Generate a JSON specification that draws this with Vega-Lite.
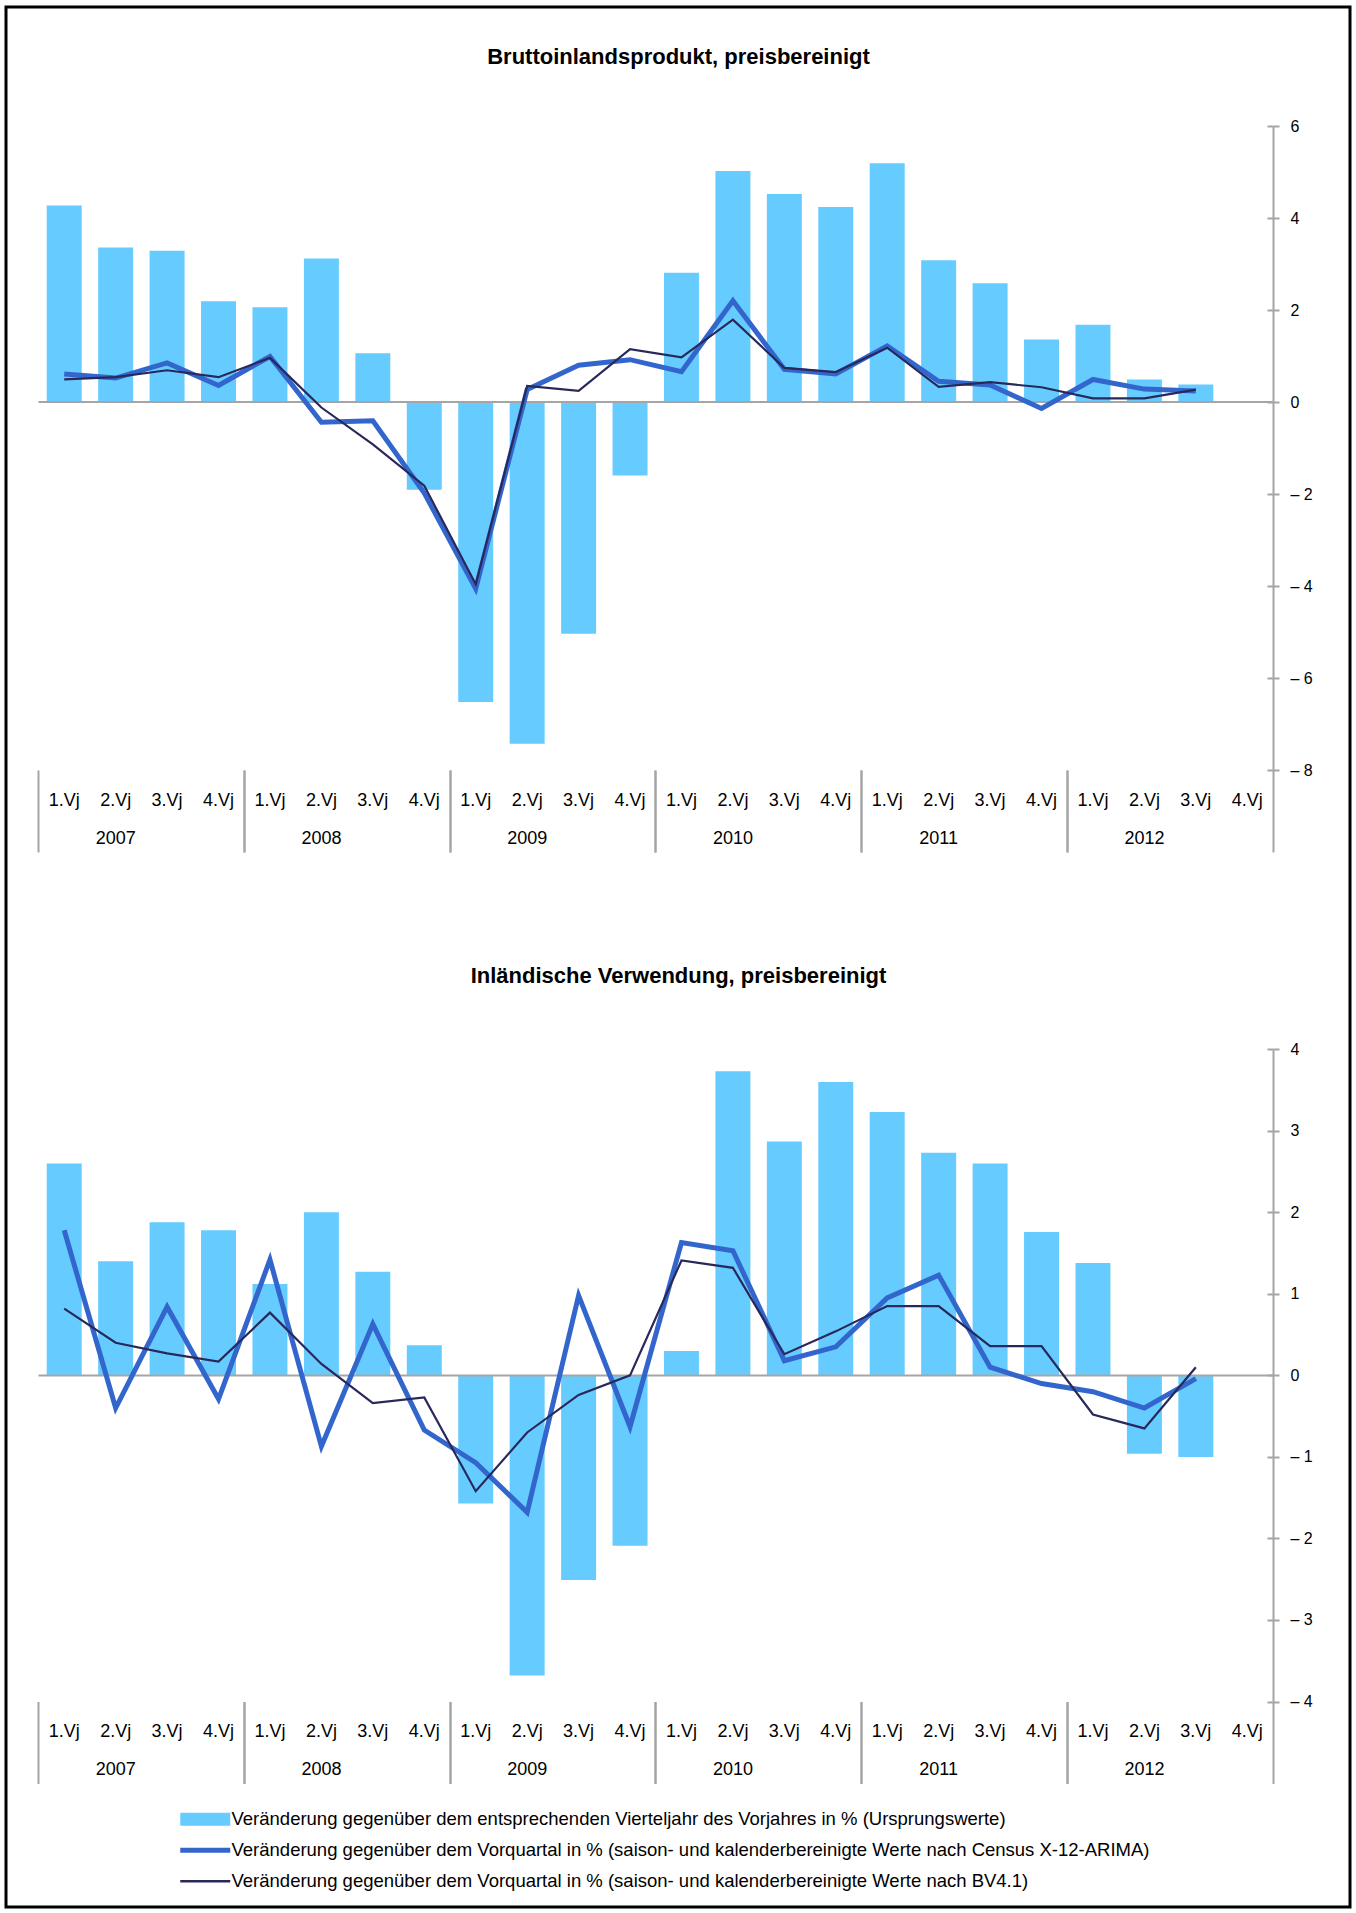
{
"$schema": "https://vega.github.io/schema/vega-lite/v6.json",
"width": 1344, "height": 1900,
"autosize": "none",
"padding": {"left": 6, "top": 7, "right": 6, "bottom": 6},
"background": "white",
"config": {"font": "Liberation Sans", "view": {"stroke": "#000000", "strokeWidth": 3}},
"datasets": {
"bip": [
{"q":"2007-1","vj":4.27,"x12":0.61,"bv":0.49},
{"q":"2007-2","vj":3.36,"x12":0.52,"bv":0.54},
{"q":"2007-3","vj":3.29,"x12":0.85,"bv":0.69},
{"q":"2007-4","vj":2.19,"x12":0.36,"bv":0.54},
{"q":"2008-1","vj":2.06,"x12":0.99,"bv":0.96},
{"q":"2008-2","vj":3.12,"x12":-0.44,"bv":-0.12},
{"q":"2008-3","vj":1.06,"x12":-0.41,"bv":-0.92},
{"q":"2008-4","vj":-1.91,"x12":-1.98,"bv":-1.82},
{"q":"2009-1","vj":-6.52,"x12":-4.06,"bv":-3.96},
{"q":"2009-2","vj":-7.43,"x12":0.27,"bv":0.35},
{"q":"2009-3","vj":-5.04,"x12":0.80,"bv":0.24},
{"q":"2009-4","vj":-1.60,"x12":0.92,"bv":1.15},
{"q":"2010-1","vj":2.81,"x12":0.66,"bv":0.97},
{"q":"2010-2","vj":5.02,"x12":2.20,"bv":1.79},
{"q":"2010-3","vj":4.52,"x12":0.71,"bv":0.74},
{"q":"2010-4","vj":4.24,"x12":0.61,"bv":0.65},
{"q":"2011-1","vj":5.19,"x12":1.22,"bv":1.18},
{"q":"2011-2","vj":3.08,"x12":0.45,"bv":0.33},
{"q":"2011-3","vj":2.58,"x12":0.37,"bv":0.43},
{"q":"2011-4","vj":1.36,"x12":-0.14,"bv":0.32},
{"q":"2012-1","vj":1.68,"x12":0.49,"bv":0.08},
{"q":"2012-2","vj":0.49,"x12":0.28,"bv":0.08},
{"q":"2012-3","vj":0.38,"x12":0.24,"bv":0.27}
],
"inl": [
{"q":"2007-1","vj":2.60,"x12":1.78,"bv":0.82},
{"q":"2007-2","vj":1.40,"x12":-0.40,"bv":0.40},
{"q":"2007-3","vj":1.88,"x12":0.84,"bv":0.27},
{"q":"2007-4","vj":1.78,"x12":-0.29,"bv":0.17},
{"q":"2008-1","vj":1.12,"x12":1.42,"bv":0.77},
{"q":"2008-2","vj":2.00,"x12":-0.87,"bv":0.14},
{"q":"2008-3","vj":1.27,"x12":0.63,"bv":-0.34},
{"q":"2008-4","vj":0.37,"x12":-0.67,"bv":-0.27},
{"q":"2009-1","vj":-1.57,"x12":-1.07,"bv":-1.42},
{"q":"2009-2","vj":-3.68,"x12":-1.68,"bv":-0.70},
{"q":"2009-3","vj":-2.51,"x12":0.98,"bv":-0.24},
{"q":"2009-4","vj":-2.09,"x12":-0.63,"bv":0.00},
{"q":"2010-1","vj":0.30,"x12":1.63,"bv":1.41},
{"q":"2010-2","vj":3.73,"x12":1.53,"bv":1.32},
{"q":"2010-3","vj":2.87,"x12":0.18,"bv":0.26},
{"q":"2010-4","vj":3.60,"x12":0.35,"bv":0.54},
{"q":"2011-1","vj":3.23,"x12":0.95,"bv":0.85},
{"q":"2011-2","vj":2.73,"x12":1.23,"bv":0.85},
{"q":"2011-3","vj":2.60,"x12":0.10,"bv":0.36},
{"q":"2011-4","vj":1.76,"x12":-0.10,"bv":0.36},
{"q":"2012-1","vj":1.38,"x12":-0.20,"bv":-0.48},
{"q":"2012-2","vj":-0.96,"x12":-0.40,"bv":-0.65},
{"q":"2012-3","vj":-1.00,"x12":-0.04,"bv":0.10}
]
},
"resolve": {"scale": {"y": "independent"}, "axis": {"x": "independent", "y": "independent"}},
"layer": [
{
 "data": {"name": "bip"},
 "mark": {"type": "bar", "width": {"band": 0.68}},
 "encoding": {
  "x": {"field": "q", "type": "ordinal",
   "scale": {"type": "band", "domain": ["2007-1","2007-2","2007-3","2007-4","2008-1","2008-2","2008-3","2008-4","2009-1","2009-2","2009-3","2009-4","2010-1","2010-2","2010-3","2010-4","2011-1","2011-2","2011-3","2011-4","2012-1","2012-2","2012-3","2012-4"], "range": [32.5, 1267], "paddingInner": 0, "paddingOuter": 0},
   "axis": {"orient": "bottom", "offset": -1137, "domain": false, "ticks": false, "grid": false, "labelAngle": 0, "labelBaseline": "middle", "labelPadding": 30, "labelFontSize": 18, "labelColor": "#000000", "labelExpr": "substring(datum.value, 5) + '.Vj'",
    "title": "Bruttoinlandsprodukt, preisbereinigt", "titleX": 672, "titleY": -706.5, "titleAlign": "center", "titleBaseline": "alphabetic", "titleFontSize": 22, "titleFontWeight": "bold", "titleColor": "#000000"}},
  "y": {"field": "vj", "type": "quantitative",
   "scale": {"domain": [-8, 6], "range": [763, 119], "nice": false, "zero": false},
   "axis": {"orient": "right", "offset": -77, "values": [-8,-6,-4,-2,0,2,4,6], "labelExpr": "datum.value < 0 ? '– ' + abs(datum.value) : '' + datum.value", "labelFontSize": 16, "labelColor": "#000000", "labelPadding": 11, "labelBaseline": "middle", "tickSize": 6, "tickWidth": 2, "tickColor": "#A5A5A5", "domainColor": "#A5A5A5", "domainWidth": 2, "grid": false, "title": null}},
  "fill": {"datum": "Veränderung gegenüber dem entsprechenden Vierteljahr des Vorjahres in % (Ursprungswerte)", "type": "nominal",
   "scale": {"domain": ["Veränderung gegenüber dem entsprechenden Vierteljahr des Vorjahres in % (Ursprungswerte)"], "range": ["#66CCFF"]},
   "legend": {"orient": "none", "legendX": 190, "legendY": 1803, "title": null, "padding": 0, "labelFontSize": 18.5, "labelColor": "#000000", "labelLimit": 1200, "labelOffset": 17, "symbolSize": 100, "symbolStrokeWidth": 0, "symbolType": "M-5,-1.3H5V1.3H-5Z", "symbolOpacity": 1}}
 }
},
{
 "data": {"values": [{}]},
 "mark": {"type": "rule", "color": "#A5A5A5", "strokeWidth": 2},
 "encoding": {
  "x": {"datum": "2007-1", "type": "ordinal", "bandPosition": 0,
   "scale": {"type": "band", "domain": ["2007-1","2007-2","2007-3","2007-4","2008-1","2008-2","2008-3","2008-4","2009-1","2009-2","2009-3","2009-4","2010-1","2010-2","2010-3","2010-4","2011-1","2011-2","2011-3","2011-4","2012-1","2012-2","2012-3","2012-4"], "range": [32.5, 1267], "paddingInner": 0, "paddingOuter": 0}, "axis": null},
  "x2": {"datum": "2012-4", "bandPosition": 1},
  "y": {"datum": 0, "type": "quantitative", "scale": {"domain": [-8, 6], "range": [763, 119], "nice": false, "zero": false}, "axis": null}
 }
},
{
 "data": {"name": "bip"},
 "mark": {"type": "line", "strokeWidth": 5},
 "encoding": {
  "x": {"field": "q", "type": "ordinal",
   "scale": {"type": "band", "domain": ["2007-1","2007-2","2007-3","2007-4","2008-1","2008-2","2008-3","2008-4","2009-1","2009-2","2009-3","2009-4","2010-1","2010-2","2010-3","2010-4","2011-1","2011-2","2011-3","2011-4","2012-1","2012-2","2012-3","2012-4"], "range": [32.5, 1267], "paddingInner": 0, "paddingOuter": 0},
   "axis": {"orient": "bottom", "offset": -1137, "bandPosition": 1, "domain": false, "grid": false, "tickSize": 82, "tickWidth": 2, "tickColor": "#A5A5A5", "tickOpacity": {"condition": {"test": "substring(datum.value, 5) == '4'", "value": 1}, "value": 0}, "labelAngle": 0, "labelBaseline": "middle", "labelPadding": -14, "labelFontSize": 18, "labelColor": "#000000", "labelExpr": "substring(datum.value, 5) == '2' ? substring(datum.value, 0, 4) : ''", "title": null}},
  "y": {"field": "x12", "type": "quantitative",
   "scale": {"domain": [-8, 6], "range": [763, 119], "nice": false, "zero": false},
   "axis": {"orient": "right", "offset": -77, "values": [-8,-6,-4,-2,0,2,4,6], "labels": false, "domain": false, "grid": false, "tickSize": -6, "tickWidth": 2, "tickColor": "#A5A5A5", "title": null}},
  "stroke": {"datum": "Veränderung gegenüber dem Vorquartal in % (saison- und kalenderbereinigte Werte nach Census X-12-ARIMA)", "type": "nominal",
   "scale": {"domain": ["Veränderung gegenüber dem Vorquartal in % (saison- und kalenderbereinigte Werte nach Census X-12-ARIMA)"], "range": ["#3366CC"]},
   "legend": {"orient": "none", "legendX": 190, "legendY": 1834, "title": null, "padding": 0, "labelFontSize": 18.5, "labelColor": "#000000", "labelLimit": 1200, "labelOffset": 17, "symbolSize": 100, "symbolStrokeWidth": 5, "symbolType": "M-5,0H5", "symbolOpacity": 1}}
 }
},
{
 "data": {"name": "bip"},
 "mark": {"type": "line", "strokeWidth": 2.2},
 "encoding": {
  "x": {"field": "q", "type": "ordinal",
   "scale": {"type": "band", "domain": ["2007-1","2007-2","2007-3","2007-4","2008-1","2008-2","2008-3","2008-4","2009-1","2009-2","2009-3","2009-4","2010-1","2010-2","2010-3","2010-4","2011-1","2011-2","2011-3","2011-4","2012-1","2012-2","2012-3","2012-4"], "range": [32.5, 1267], "paddingInner": 0, "paddingOuter": 0},
   "axis": {"orient": "bottom", "offset": -1137, "bandPosition": 0, "domain": false, "grid": false, "labels": false, "tickSize": 82, "tickWidth": 2, "tickColor": "#A5A5A5", "tickOpacity": {"condition": {"test": "substring(datum.value, 5) == '1'", "value": 1}, "value": 0}, "title": null}},
  "y": {"field": "bv", "type": "quantitative",
   "scale": {"domain": [-8, 6], "range": [763, 119], "nice": false, "zero": false}, "axis": null},
  "color": {"datum": "Veränderung gegenüber dem Vorquartal in % (saison- und kalenderbereinigte Werte nach BV4.1)", "type": "nominal",
   "scale": {"domain": ["Veränderung gegenüber dem Vorquartal in % (saison- und kalenderbereinigte Werte nach BV4.1)"], "range": ["#28285A"]},
   "legend": {"orient": "none", "legendX": 190, "legendY": 1865, "title": null, "padding": 0, "labelFontSize": 18.5, "labelColor": "#000000", "labelLimit": 1200, "labelOffset": 17, "symbolSize": 100, "symbolStrokeWidth": 2.5, "symbolType": "M-5,0H5", "symbolOpacity": 1}}
 }
},
{
 "data": {"name": "inl"},
 "mark": {"type": "bar", "width": {"band": 0.68}},
 "encoding": {
  "x": {"field": "q", "type": "ordinal",
   "scale": {"type": "band", "domain": ["2007-1","2007-2","2007-3","2007-4","2008-1","2008-2","2008-3","2008-4","2009-1","2009-2","2009-3","2009-4","2010-1","2010-2","2010-3","2010-4","2011-1","2011-2","2011-3","2011-4","2012-1","2012-2","2012-3","2012-4"], "range": [32.5, 1267], "paddingInner": 0, "paddingOuter": 0},
   "axis": {"orient": "bottom", "offset": -205.5, "domain": false, "ticks": false, "grid": false, "labelAngle": 0, "labelBaseline": "middle", "labelPadding": 30, "labelFontSize": 18, "labelColor": "#000000", "labelExpr": "substring(datum.value, 5) + '.Vj'",
    "title": "Inländische Verwendung, preisbereinigt", "titleX": 672, "titleY": -719, "titleAlign": "center", "titleBaseline": "alphabetic", "titleFontSize": 22, "titleFontWeight": "bold", "titleColor": "#000000"}},
  "y": {"field": "vj", "type": "quantitative",
   "scale": {"domain": [-4, 4], "range": [1694.5, 1042.3], "nice": false, "zero": false},
   "axis": {"orient": "right", "offset": -77, "values": [-4,-3,-2,-1,0,1,2,3,4], "labelExpr": "datum.value < 0 ? '– ' + abs(datum.value) : '' + datum.value", "labelFontSize": 16, "labelColor": "#000000", "labelPadding": 11, "labelBaseline": "middle", "tickSize": 6, "tickWidth": 2, "tickColor": "#A5A5A5", "domainColor": "#A5A5A5", "domainWidth": 2, "grid": false, "title": null}},
  "fill": {"datum": "Veränderung gegenüber dem entsprechenden Vierteljahr des Vorjahres in % (Ursprungswerte)", "type": "nominal",
   "scale": {"domain": ["Veränderung gegenüber dem entsprechenden Vierteljahr des Vorjahres in % (Ursprungswerte)"], "range": ["#66CCFF"]}, "legend": null}
 }
},
{
 "data": {"values": [{}]},
 "mark": {"type": "rule", "color": "#A5A5A5", "strokeWidth": 2},
 "encoding": {
  "x": {"datum": "2007-1", "type": "ordinal", "bandPosition": 0,
   "scale": {"type": "band", "domain": ["2007-1","2007-2","2007-3","2007-4","2008-1","2008-2","2008-3","2008-4","2009-1","2009-2","2009-3","2009-4","2010-1","2010-2","2010-3","2010-4","2011-1","2011-2","2011-3","2011-4","2012-1","2012-2","2012-3","2012-4"], "range": [32.5, 1267], "paddingInner": 0, "paddingOuter": 0}, "axis": null},
  "x2": {"datum": "2012-4", "bandPosition": 1},
  "y": {"datum": 0, "type": "quantitative", "scale": {"domain": [-4, 4], "range": [1694.5, 1042.3], "nice": false, "zero": false}, "axis": null}
 }
},
{
 "data": {"name": "inl"},
 "mark": {"type": "line", "strokeWidth": 5},
 "encoding": {
  "x": {"field": "q", "type": "ordinal",
   "scale": {"type": "band", "domain": ["2007-1","2007-2","2007-3","2007-4","2008-1","2008-2","2008-3","2008-4","2009-1","2009-2","2009-3","2009-4","2010-1","2010-2","2010-3","2010-4","2011-1","2011-2","2011-3","2011-4","2012-1","2012-2","2012-3","2012-4"], "range": [32.5, 1267], "paddingInner": 0, "paddingOuter": 0},
   "axis": {"orient": "bottom", "offset": -205.5, "bandPosition": 1, "domain": false, "grid": false, "tickSize": 82, "tickWidth": 2, "tickColor": "#A5A5A5", "tickOpacity": {"condition": {"test": "substring(datum.value, 5) == '4'", "value": 1}, "value": 0}, "labelAngle": 0, "labelBaseline": "middle", "labelPadding": -14, "labelFontSize": 18, "labelColor": "#000000", "labelExpr": "substring(datum.value, 5) == '2' ? substring(datum.value, 0, 4) : ''", "title": null}},
  "y": {"field": "x12", "type": "quantitative",
   "scale": {"domain": [-4, 4], "range": [1694.5, 1042.3], "nice": false, "zero": false},
   "axis": {"orient": "right", "offset": -77, "values": [-4,-3,-2,-1,0,1,2,3,4], "labels": false, "domain": false, "grid": false, "tickSize": -6, "tickWidth": 2, "tickColor": "#A5A5A5", "title": null}},
  "stroke": {"datum": "Veränderung gegenüber dem Vorquartal in % (saison- und kalenderbereinigte Werte nach Census X-12-ARIMA)", "type": "nominal",
   "scale": {"domain": ["Veränderung gegenüber dem Vorquartal in % (saison- und kalenderbereinigte Werte nach Census X-12-ARIMA)"], "range": ["#3366CC"]}, "legend": null}
 }
},
{
 "data": {"name": "inl"},
 "mark": {"type": "line", "strokeWidth": 2.2},
 "encoding": {
  "x": {"field": "q", "type": "ordinal",
   "scale": {"type": "band", "domain": ["2007-1","2007-2","2007-3","2007-4","2008-1","2008-2","2008-3","2008-4","2009-1","2009-2","2009-3","2009-4","2010-1","2010-2","2010-3","2010-4","2011-1","2011-2","2011-3","2011-4","2012-1","2012-2","2012-3","2012-4"], "range": [32.5, 1267], "paddingInner": 0, "paddingOuter": 0},
   "axis": {"orient": "bottom", "offset": -205.5, "bandPosition": 0, "domain": false, "grid": false, "labels": false, "tickSize": 82, "tickWidth": 2, "tickColor": "#A5A5A5", "tickOpacity": {"condition": {"test": "substring(datum.value, 5) == '1'", "value": 1}, "value": 0}, "title": null}},
  "y": {"field": "bv", "type": "quantitative",
   "scale": {"domain": [-4, 4], "range": [1694.5, 1042.3], "nice": false, "zero": false}, "axis": null},
  "color": {"datum": "Veränderung gegenüber dem Vorquartal in % (saison- und kalenderbereinigte Werte nach BV4.1)", "type": "nominal",
   "scale": {"domain": ["Veränderung gegenüber dem Vorquartal in % (saison- und kalenderbereinigte Werte nach BV4.1)"], "range": ["#28285A"]}, "legend": null}
 }
}
]
}
